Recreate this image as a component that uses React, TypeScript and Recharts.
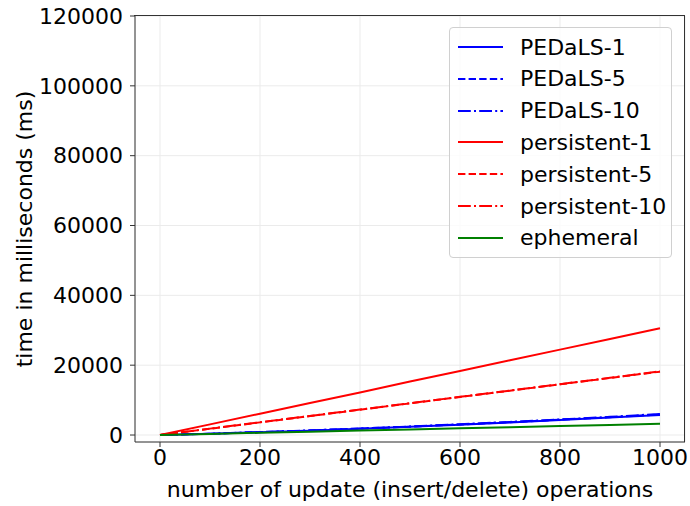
import { CartesianGrid, Legend, Line, LineChart, XAxis, YAxis } from "recharts";

// x positions (number of update operations)
const ops = [0, 100, 200, 300, 400, 500, 600, 700, 800, 900, 1000];

// times in ms
const pedals1 = [0, 350, 800, 1250, 1800, 2350, 2950, 3600, 4300, 5000, 5750];
const pedals5 = [0, 370, 830, 1300, 1850, 2400, 3020, 3680, 4380, 5100, 5900];
const pedals10 = [0, 380, 850, 1330, 1880, 2450, 3080, 3750, 4450, 5200, 6050];
const persistent1 = [0, 3050, 6100, 9150, 12200, 15300, 18350, 21400, 24450, 27500, 30600];
const persistent5 = [0, 1800, 3620, 5430, 7250, 9070, 10900, 12700, 14520, 16330, 18150];
const persistent10 = [0, 1830, 3650, 5460, 7300, 9100, 10930, 12740, 14560, 16380, 18250];
const ephemeral = [0, 320, 640, 960, 1280, 1600, 1920, 2240, 2560, 2880, 3200];

const xTicks = [0, 200, 400, 600, 800, 1000];
const yTicks = [0, 20000, 40000, 60000, 80000, 100000, 120000];

const series = [
  { key: "PEDaLS-1", values: pedals1, color: "#0000ff", dash: undefined },
  { key: "PEDaLS-5", values: pedals5, color: "#0000ff", dash: "7.4 3.2" },
  { key: "PEDaLS-10", values: pedals10, color: "#0000ff", dash: "12.8 3.2 2 3.2" },
  { key: "persistent-1", values: persistent1, color: "#ff0000", dash: undefined },
  { key: "persistent-5", values: persistent5, color: "#ff0000", dash: "7.4 3.2" },
  { key: "persistent-10", values: persistent10, color: "#ff0000", dash: "12.8 3.2 2 3.2" },
  { key: "ephemeral", values: ephemeral, color: "#008000", dash: undefined },
];

const data = ops.map((x, i) => {
  const row: Record<string, number> = { ops: x };
  series.forEach((s) => {
    row[s.key] = s.values[i];
  });
  return row;
});

const FONT = "DejaVu Sans, sans-serif";
const FS = 22;

function LegendBox() {
  return (
    <div
      style={{
        position: "absolute",
        left: 449,
        top: 27,
        width: 223,
        height: 231,
        border: "1px solid #d0d0d0",
        borderRadius: 4,
        background: "rgba(255,255,255,0.8)",
        boxSizing: "border-box",
        fontFamily: FONT,
        fontSize: FS,
        color: "#000",
      }}
    >
      {series.map((s, i) => (
        <div
          key={s.key}
          style={{
            position: "absolute",
            left: 0,
            top: 4 + i * 31.8,
            height: 30,
            display: "flex",
            alignItems: "center",
            whiteSpace: "nowrap",
          }}
        >
          <svg width={70} height={30}>
            <line
              x1={8}
              x2={53}
              y1={15}
              y2={15}
              stroke={s.color}
              strokeWidth={2}
              strokeDasharray={s.dash}
            />
          </svg>
          <span>{s.key}</span>
        </div>
      ))}
    </div>
  );
}

export default function App() {
  return (
    <div
      style={{
        position: "absolute",
        left: 0,
        top: 0,
        width: 690,
        height: 506,
        background: "#fff",
      }}
    >
      <LineChart
        width={690}
        height={506}
        data={data}
        margin={{ top: 16, right: 5, left: 0, bottom: 0 }}
      >
        <CartesianGrid stroke="#ebebeb" strokeWidth={1} />
        <XAxis
          dataKey="ops"
          type="number"
          domain={[-50, 1050]}
          ticks={xTicks}
          height={64}
          stroke="#333"
          tickSize={5}
          tickMargin={2}
          tick={{ fill: "#000", fontSize: FS, fontFamily: FONT }}
          label={{
            value: "number of update (insert/delete) operations",
            position: "insideBottom",
            offset: 9,
            fill: "#000",
            fontSize: FS,
            fontFamily: FONT,
          }}
        />
        <YAxis
          type="number"
          domain={[-2000, 120000]}
          ticks={yTicks}
          width={135}
          stroke="#333"
          tickSize={5}
          tickMargin={7}
          tick={{ fill: "#000", fontSize: FS, fontFamily: FONT }}
          label={{
            value: "time in milliseconds (ms)",
            angle: -90,
            position: "insideLeft",
            offset: 24,
            style: { textAnchor: "middle" },
            fill: "#000",
            fontSize: FS,
            fontFamily: FONT,
          }}
        />
        <Legend content={() => null} />
        {series.map((s) => (
          <Line
            key={s.key}
            dataKey={s.key}
            stroke={s.color}
            strokeWidth={2}
            strokeDasharray={s.dash}
            dot={false}
            isAnimationActive={false}
          />
        ))}
      </LineChart>
      {/* top and right spines */}
      <div
        style={{
          position: "absolute",
          left: 134,
          top: 15,
          width: 551,
          height: 427,
          border: "1px solid #333",
          borderLeft: "none",
          borderBottom: "none",
          boxSizing: "border-box",
          pointerEvents: "none",
        }}
      />
      <LegendBox />
    </div>
  );
}
